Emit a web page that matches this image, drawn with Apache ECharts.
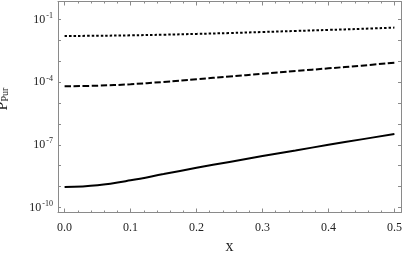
<!DOCTYPE html>
<html>
<head>
<meta charset="utf-8">
<script src="https://cdn.jsdelivr.net/npm/echarts@6/dist/echarts.min.js"></script>
<style>html,body{margin:0;padding:0;background:#fff}#c{width:407px;height:259px}</style>
</head>
<body>
<div id="c"></div>
<script>
// x values
const xValues = [0, 0.05, 0.1, 0.15, 0.2, 0.25, 0.3, 0.35, 0.4, 0.45, 0.5];
// log10 of P_Pur
const dottedLog = [-1.79, -1.78, -1.76, -1.73, -1.69, -1.65, -1.60, -1.55, -1.50, -1.45, -1.39];
const dashedLog = [-4.20, -4.17, -4.10, -3.99, -3.86, -3.73, -3.60, -3.47, -3.34, -3.21, -3.07];
const solidLog  = [-9.02, -8.93, -8.70, -8.40, -8.10, -7.82, -7.54, -7.27, -7.00, -6.74, -6.48];
// ticks
const xMajorTicks = [0, 0.1, 0.2, 0.3, 0.4, 0.5];
const xMinorTicks = [0.02,0.04,0.06,0.08,0.12,0.14,0.16,0.18,0.22,0.24,0.26,0.28,0.32,0.34,0.36,0.38,0.42,0.44,0.46,0.48];
const yTicks = [-10,-9,-8,-7,-6,-5,-4,-3,-2,-1];
const yLabelTicks = [-10, -7, -4, -1];

const FONT = 'Liberation Serif';
const frameColor = '#8a8a8a';
const textColor = '#222';

function pairs(xs, ys){ return xs.map((x,i)=>[x, ys[i]]); }

const xRange = {min: -0.01, max: 0.51};
function xAx(pos, ticks, len, showLine, showLabel){
  return {
    type: 'value', position: pos, offset: 0, min: xRange.min, max: xRange.max,
    splitLine: {show: false},
    axisLine: {show: showLine, onZero: false, lineStyle: {color: frameColor, width: 1}},
    axisTick: {show: true, inside: true, length: len, customValues: ticks, lineStyle: {color: frameColor, width: 1}},
    axisLabel: showLabel ? {
      show: true, customValues: xMajorTicks, margin: 9,
      fontFamily: FONT, fontSize: 12, color: textColor,
      formatter: v => v.toFixed(1)
    } : {show: false}
  };
}
const yRange = {min: -10.24, max: -0.14};
function yAx(pos, showLabel){
  const a = {
    type: 'value', position: pos, offset: 0, min: yRange.min, max: yRange.max,
    splitLine: {show: false},
    axisLine: {show: true, onZero: false, lineStyle: {color: frameColor, width: 1}},
    axisTick: {show: true, inside: true, length: 3, customValues: yTicks, lineStyle: {color: frameColor, width: 1}},
    axisLabel: showLabel ? {
      show: true, customValues: yLabelTicks, margin: 5,
      fontFamily: FONT, fontSize: 12, color: textColor,
      formatter: v => '{b|10}{s|' + Math.round(v) + '}',
      rich: {
        b: {fontFamily: FONT, fontSize: 12, color: textColor, lineHeight: 14},
        s: {fontFamily: FONT, fontSize: 8, color: textColor, lineHeight: 14, padding: [0,0,7,1]}
      }
    } : {show: false}
  };
  if (showLabel) {
    a.name = '{p|P}{sub|Pur}';
    a.nameLocation = 'middle';
    a.nameGap = 45;
    a.nameRotate = 90;
    a.nameTextStyle = {
      padding: [0,0,0,16],
      rich: {
        p: {fontFamily: FONT, fontSize: 16, color: textColor, lineHeight: 20},
        sub: {fontFamily: FONT, fontSize: 10, color: textColor, lineHeight: 20, padding: [5,0,0,0]}
      }
    };
  }
  return a;
}

const chart = echarts.init(document.getElementById('c'), null, {renderer: 'canvas'});
const xMain = xAx('bottom', xMajorTicks, 4, true, true);
xMain.name = 'x';
xMain.nameLocation = 'middle';
xMain.nameGap = 19;
xMain.nameTextStyle = {fontFamily: FONT, fontSize: 16, color: textColor};

chart.setOption({
  animation: false,
  backgroundColor: '#fff',
  grid: {left: 58, right: 6, top: 1.5, bottom: 46.5, containLabel: false, outerBoundsMode: 'none'},
  xAxis: [
    xMain,
    xAx('bottom', xMinorTicks, 2, false, false),
    xAx('top', xMajorTicks, 4, true, false),
    xAx('top', xMinorTicks, 2, false, false)
  ],
  yAxis: [yAx('left', true), yAx('right', false)],
  series: [
    {type: 'line', data: pairs(xValues, dottedLog), smooth: 0.4, showSymbol: false,
     lineStyle: {color: '#000', width: 2, type: [2.5, 2]}},
    {type: 'line', data: pairs(xValues, dashedLog), smooth: 0.4, showSymbol: false,
     lineStyle: {color: '#000', width: 2, type: [6.5, 2.5]}},
    {type: 'line', data: pairs(xValues, solidLog), smooth: 0.4, showSymbol: false,
     lineStyle: {color: '#000', width: 2, type: 'solid'}}
  ]
});
</script>
</body>
</html>
